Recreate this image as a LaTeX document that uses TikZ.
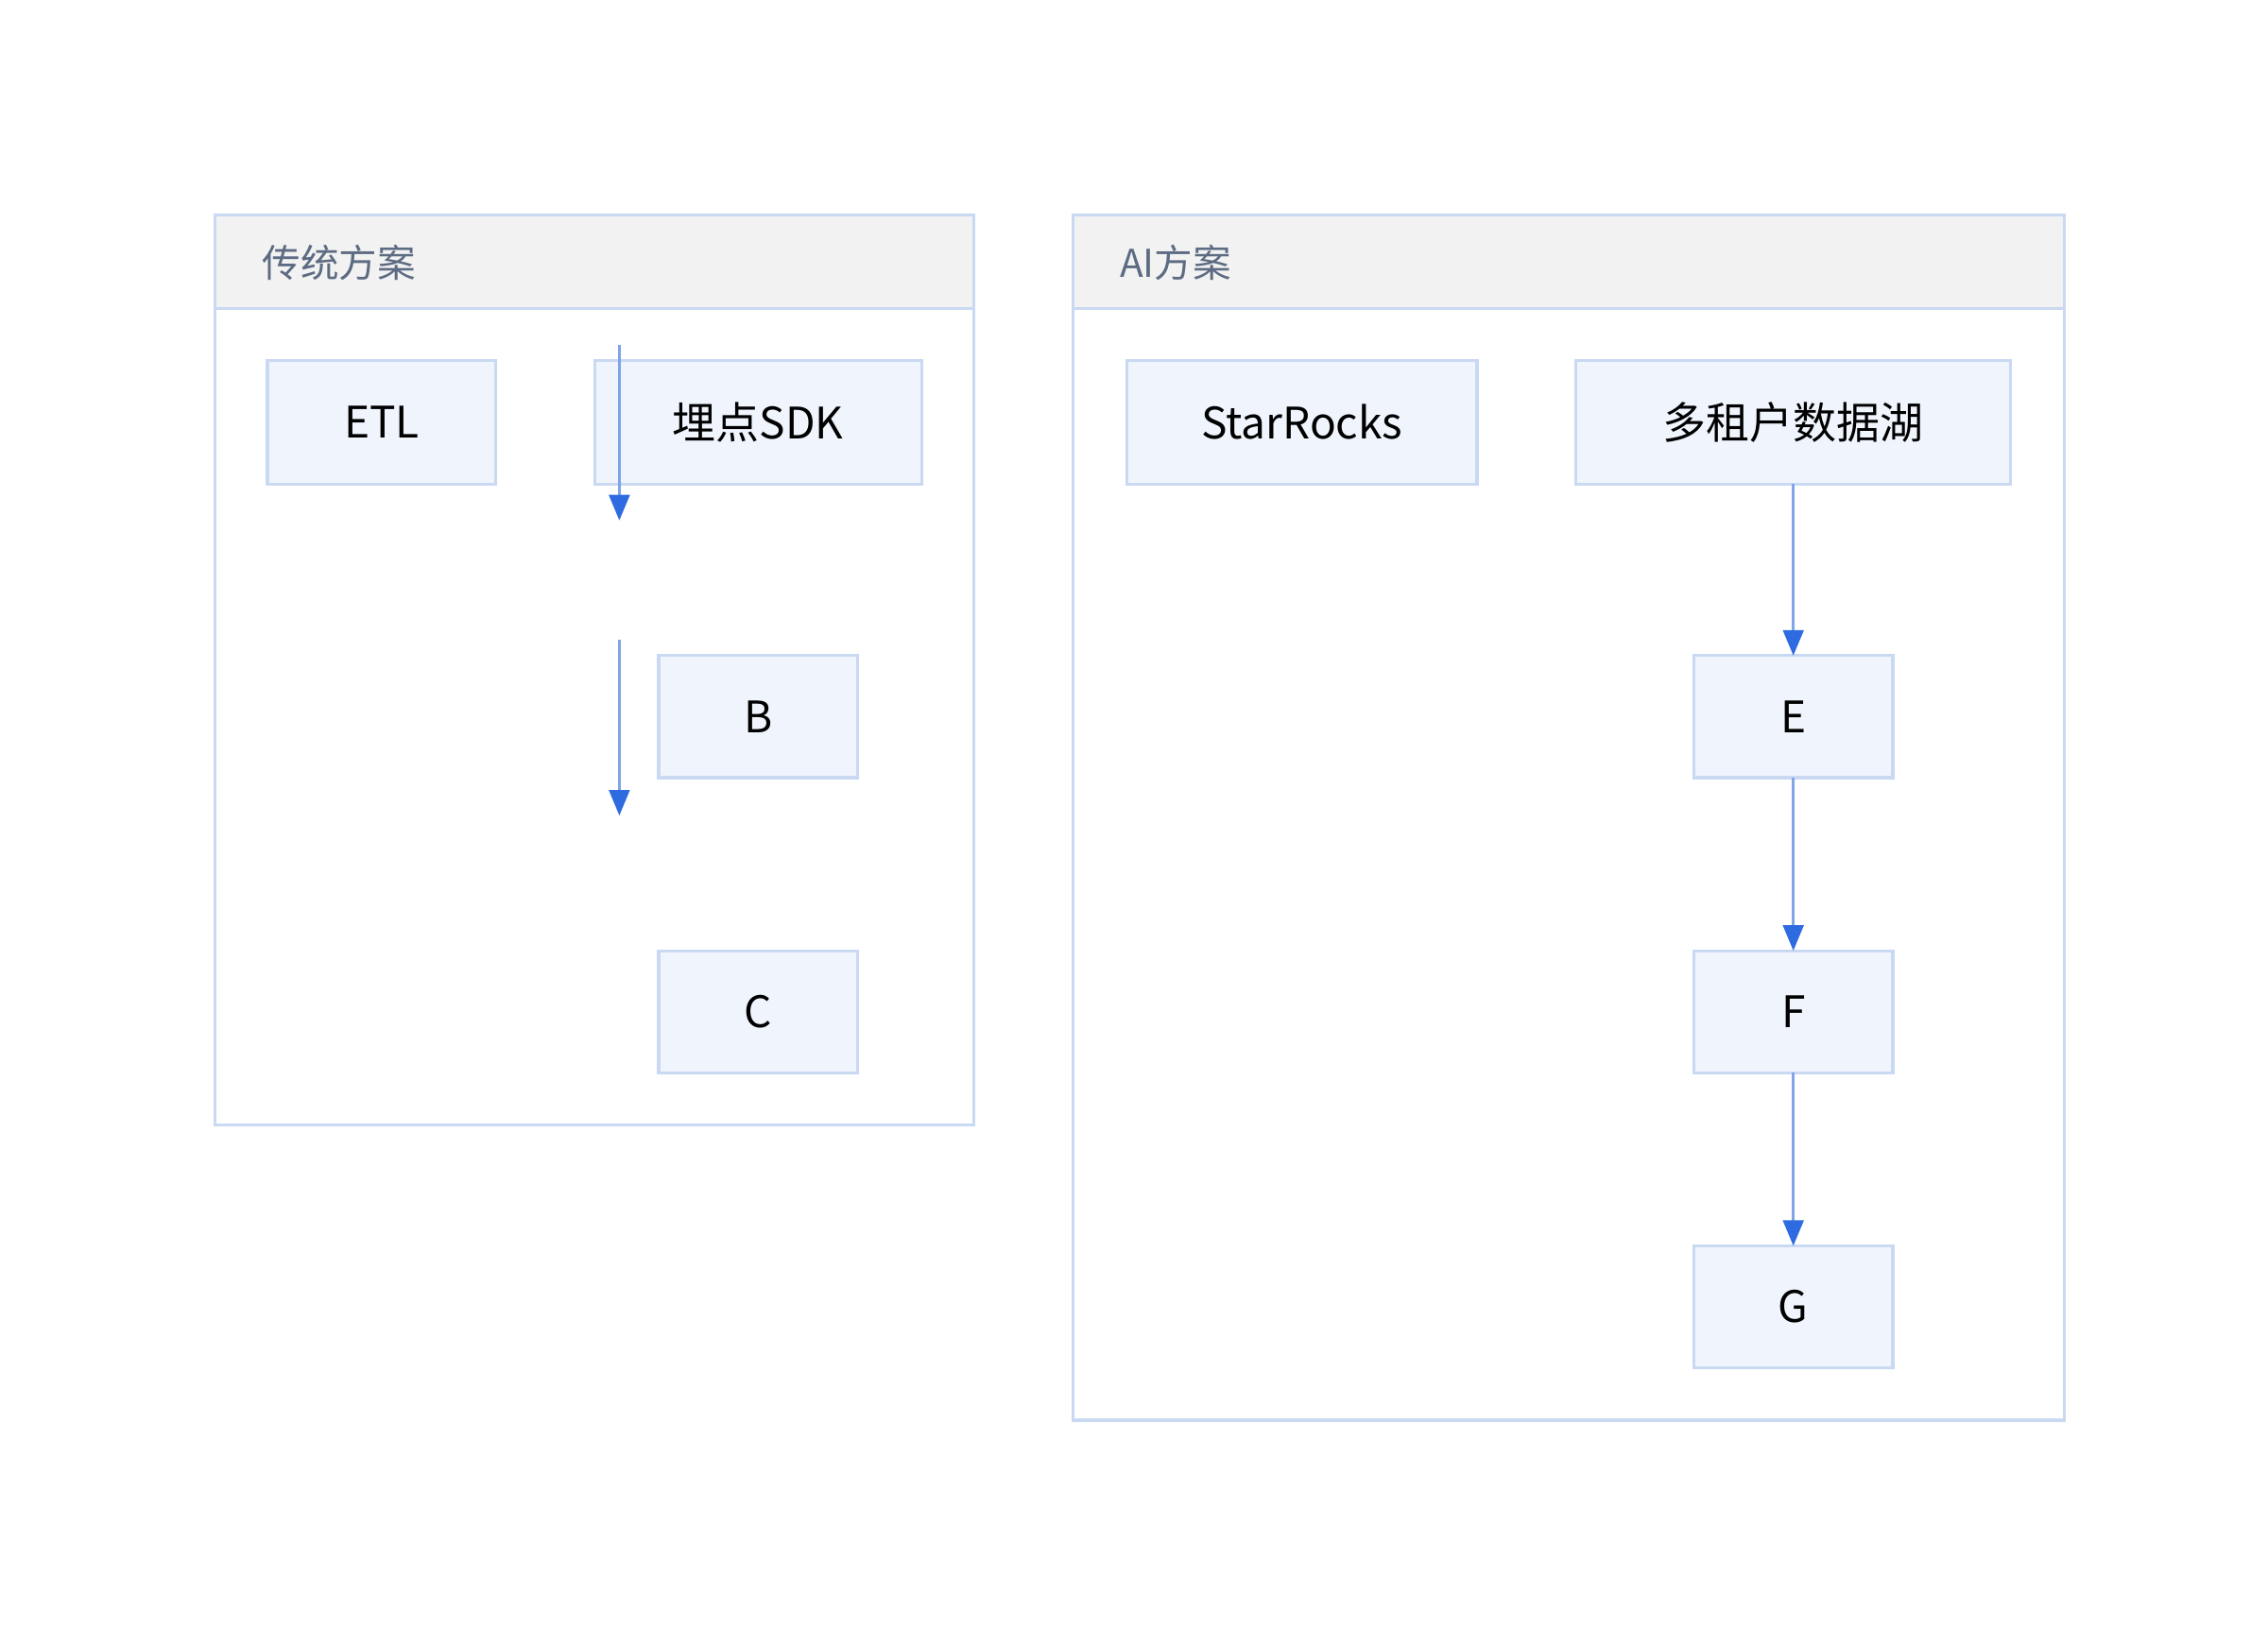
\documentclass[tikz,border=0pt]{standalone}
\usepackage{fontspec}
\setmainfont{Noto Sans CJK SC}
\usetikzlibrary{arrows.meta}
\definecolor{boxfill}{HTML}{F0F5FD}
\definecolor{boxline}{HTML}{C9D9F2}
\definecolor{headfill}{HTML}{F2F2F2}
\definecolor{titlegray}{HTML}{5D6B82}
\definecolor{arrowline}{HTML}{7FA4E8}
\definecolor{arrowhead}{HTML}{2F6BE0}
\tikzset{
    box/.style={draw=boxline, fill=boxfill, line width=0.6pt, font=\fontsize{8.5}{10}\selectfont},
    flow/.style={draw=arrowline, line width=0.6pt, -{Triangle[length=5pt, width=4pt, fill=arrowhead, color=arrowhead]}}
}
\begin{document}
\begin{tikzpicture}[x=0.01cm, y=-0.01cm]
    \useasboundingbox (0,0) rectangle (1560,1121);

    % Gruppen.
    \draw[boxline, line width=0.6pt, fill=white] (148,148) rectangle (670,774);
    \draw[boxline, line width=0.6pt, fill=headfill] (148,148) rectangle (670,212);
    \node[anchor=west, text=titlegray, font=\fontsize{7.5}{9}\selectfont] (t1) at (168,181) {传统方案};

    \draw[boxline, line width=0.6pt, fill=white] (738,148) rectangle (1420,977);
    \draw[boxline, line width=0.6pt, fill=headfill] (738,148) rectangle (1420,212);
    \node[anchor=west, text=titlegray, font=\fontsize{7.5}{9}\selectfont] (t2) at (758,181) {AI方案};

    % Knoten.
    \path[box] (184,248) rectangle (341,333);
    \node (etl) at (262.5,290.5) {\fontsize{8.5}{10}\selectfont ETL};
    \path[box] (409,248) rectangle (634,333);
    \node (sdk) at (521.5,290.5) {\fontsize{8.5}{10}\selectfont 埋点SDK};
    \path[box] (453,451) rectangle (590,535);
    \node (b) at (521.5,493) {\fontsize{8.5}{10}\selectfont B};
    \path[box] (453,654) rectangle (590,738);
    \node (c) at (521.5,696) {\fontsize{8.5}{10}\selectfont C};

    \path[box] (775,248) rectangle (1016,333);
    \node (sr) at (895.5,290.5) {\fontsize{8.5}{10}\selectfont StarRocks};
    \path[box] (1084,248) rectangle (1383,333);
    \node (lake) at (1233.5,290.5) {\fontsize{8.5}{10}\selectfont 多租户数据湖};
    \path[box] (1165,451) rectangle (1302,535);
    \node (e) at (1233.5,493) {\fontsize{8.5}{10}\selectfont E};
    \path[box] (1165,654) rectangle (1302,738);
    \node (f) at (1233.5,696) {\fontsize{8.5}{10}\selectfont F};
    \path[box] (1165,857) rectangle (1302,941);
    \node (g) at (1233.5,899) {\fontsize{8.5}{10}\selectfont G};

    % Pfeile.
    \coordinate (a1) at (426,237);
    \coordinate (a2) at (426,358);
    \coordinate (a3) at (426,440);
    \coordinate (a4) at (426,561);
    \draw[flow] (a1) -- (a2);
    \draw[flow] (a3) -- (a4);

    \coordinate (l1) at (1233.5,333);
    \coordinate (e0) at (1233.5,451);
    \coordinate (e1) at (1233.5,535);
    \coordinate (f0) at (1233.5,654);
    \coordinate (f1) at (1233.5,738);
    \coordinate (g0) at (1233.5,857);
    \draw[flow] (l1) -- (e0);
    \draw[flow] (e1) -- (f0);
    \draw[flow] (f1) -- (g0);
\end{tikzpicture}
\end{document}
